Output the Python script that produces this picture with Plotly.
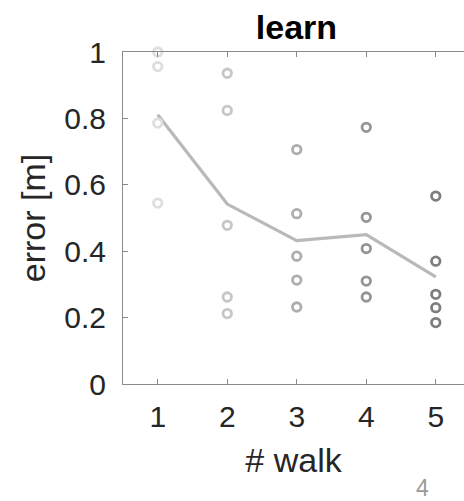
import plotly.graph_objects as go

# error per walk (metres), one list per walk
walks = [1, 2, 3, 4, 5]
walk1 = [1.0, 0.956, 0.786, 0.545]
walk2 = [0.936, 0.824, 0.478, 0.262, 0.212]
walk3 = [0.706, 0.513, 0.385, 0.313, 0.232]
walk4 = [0.773, 0.502, 0.408, 0.310, 0.262]
walk5 = [0.566, 0.370, 0.270, 0.230, 0.185]
mean_error = [0.811, 0.542, 0.432, 0.450, 0.323]

y_ticks = [0, 0.2, 0.4, 0.6, 0.8, 1]
y_tick_text = ["0", "0.2", "0.4", "0.6", "0.8", "1"]

series = [walk1, walk2, walk3, walk4, walk5]
shades = ["#dedede", "#c6c6c6", "#adadad", "#959595", "#7e7e7e"]

FONT = "Liberation Sans, Arial, Helvetica, sans-serif"
TXT = "#262626"

fig = go.Figure()

# mean line
fig.add_trace(go.Scatter(
    x=walks, y=mean_error, mode="lines",
    line=dict(color="#b9b9b9", width=3.2),
    hoverinfo="skip", showlegend=False,
))

for w, vals, col in zip(walks, series, shades):
    fig.add_trace(go.Scatter(
        x=[w] * len(vals), y=vals, mode="markers",
        marker=dict(symbol="circle-open", size=8.5, color=col,
                    line=dict(color=col, width=2.8)),
        cliponaxis=False, showlegend=False,
    ))

fig.update_layout(
    width=464, height=501,
    margin=dict(l=123, r=0, t=52, b=117),
    paper_bgcolor="white", plot_bgcolor="white",
    font=dict(family=FONT, color=TXT, size=30),
    title=dict(text="<b>learn</b>", font=dict(family=FONT, size=34, color="#000000"),
               xref="container", x=296.5 / 464, xanchor="center",
               yref="container", y=1 - 27 / 501, yanchor="middle"),
    annotations=[dict(text="4", xref="paper", yref="paper", x=(422 - 123) / 341,
                      y=-(488 - 384) / 332, xanchor="center", yanchor="middle",
                      showarrow=False, font=dict(family=FONT, size=23, color="#9a9a9a"))],
)

fig.update_xaxes(
    range=[0.5, 5.406], tickvals=walks, ticktext=[str(w) for w in walks],
    showline=True, linecolor="#8a8a8a", linewidth=1, mirror="ticks",
    ticks="inside", ticklen=5, tickcolor="#8a8a8a", tickwidth=1,
    showgrid=False, zeroline=False,
    tickfont=dict(size=30, color=TXT), ticklabelstandoff=6,
    title=dict(text="# walk", font=dict(size=34, color=TXT), standoff=16),
)
fig.update_yaxes(
    range=[0, 1], tickvals=y_ticks, ticktext=y_tick_text,
    showline=True, linecolor="#8a8a8a", linewidth=1, mirror=False,
    ticks="inside", ticklen=5, tickcolor="#8a8a8a", tickwidth=1,
    showgrid=False, zeroline=False,
    tickfont=dict(size=30, color=TXT), ticklabelstandoff=10,
    title=dict(text="error [m]", font=dict(size=34, color=TXT), standoff=8),
)

fig.write_html("out.html")
